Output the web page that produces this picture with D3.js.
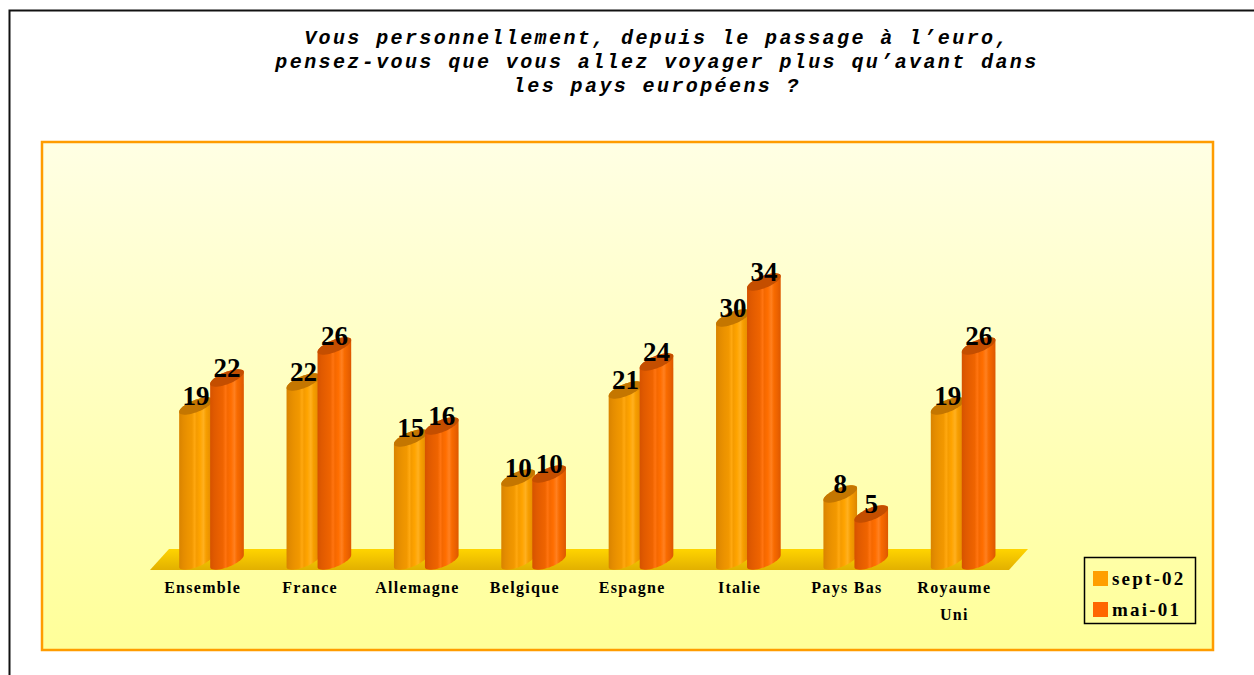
<!DOCTYPE html>
<html><head><meta charset="utf-8">
<script src="https://cdn.jsdelivr.net/npm/d3@7"></script>
<style>html,body{margin:0;padding:0;background:#fff;}svg{display:block;}</style>
</head><body>
<script>
const titleLines = ["Vous personnellement, depuis le passage à l’euro,", "pensez-vous que vous allez voyager plus qu’avant dans", "les pays européens ?"];
const categories = ["Ensemble", "France", "Allemagne", "Belgique", "Espagne", "Italie", "Pays Bas", "Royaume Uni"];
const series = ["sept-02", "mai-01"];
const sept02 = [19, 22, 15, 10, 21, 30, 8, 19];
const mai01 = [22, 26, 16, 10, 24, 34, 5, 26];
const seriesValues = [sept02, mai01];

const W = 1254, H = 675;
const svg = d3.select("body").append("svg").attr("width", W).attr("height", H);
const defs = svg.append("defs");

// background gradient
const bg = defs.append("linearGradient").attr("id", "bg").attr("x1", 0).attr("y1", 0).attr("x2", 0).attr("y2", 1);
bg.append("stop").attr("offset", "0%").attr("stop-color", "#ffffe4");
bg.append("stop").attr("offset", "100%").attr("stop-color", "#ffff99");
const fl = defs.append("linearGradient").attr("id", "floor").attr("x1", 0).attr("y1", 0).attr("x2", 0).attr("y2", 1);
fl.append("stop").attr("offset", "0%").attr("stop-color", "#ffd400");
fl.append("stop").attr("offset", "100%").attr("stop-color", "#e2b000");

const palettes = [
  {id: "g0", cap: "#c47600", legend: "#ff9f00",
   stops: [["0%","#d98300"],["12%","#e48c00"],["25%","#ec9300"],["38%","#f29800"],["46%","#ffa810"],["52%","#f59b00"],["62%","#ffa400"],["72%","#ffb020"],["80%","#f79e00"],["90%","#eb9200"],["100%","#dc8600"]]},
  {id: "g1", cap: "#c44e00", legend: "#ff6600",
   stops: [["0%","#d65200"],["12%","#e05a00"],["25%","#e85f00"],["38%","#ef6400"],["46%","#ff7410"],["52%","#f56800"],["62%","#ff6e00"],["72%","#ff8020"],["80%","#f86b00"],["90%","#ec6200"],["100%","#dc5800"]]}
];
palettes.forEach(p => {
  const g = defs.append("linearGradient").attr("id", p.id).attr("x1", 0).attr("y1", 0).attr("x2", 1).attr("y2", 0);
  p.stops.forEach(s => g.append("stop").attr("offset", s[0]).attr("stop-color", s[1]));
});

// outer black frame
svg.append("rect").attr("x", 9.5).attr("y", 10.5).attr("width", 1400).attr("height", 800)
  .attr("fill", "none").attr("stroke", "#111").attr("stroke-width", 2);

// title
const title = svg.append("text").attr("text-anchor", "middle")
  .attr("font-family", "'Liberation Mono', 'Courier New', monospace")
  .attr("font-weight", "bold").attr("font-style", "italic").attr("font-size", 20)
  .attr("letter-spacing", 2.4).attr("fill", "#000");
titleLines.forEach((t, i) => title.append("tspan").attr("x", 657).attr("y", 44 + i * 24).text(t));

// plot area
svg.append("rect").attr("x", 42).attr("y", 142).attr("width", 1171).attr("height", 508)
  .attr("fill", "url(#bg)").attr("stroke", "#ff9c00").attr("stroke-width", 2.5);

// scales
const x0 = d3.scaleBand().domain(categories).range([150, 1009]);
const x1 = d3.scalePoint().domain(series).range([46, 77]);
const y = d3.scaleLinear().domain([0, 34]).range([556, 284]);
const seriesDy = [2, -2];

// floor
const floorTop = 549, floorBot = 570, skew = 19;
svg.append("path")
  .attr("d", `M${x0.range()[0]},${floorBot} L${x0.range()[0] + skew},${floorTop} L${x0.range()[1] + skew},${floorTop} L${x0.range()[1]},${floorBot} Z`)
  .attr("fill", "url(#floor)");

// cylinders
const rx = 18, ry = 6, ang = -22 * Math.PI / 180;
function ellipsePts(cx, cy) {
  const pts = [];
  for (let i = 0; i < 48; i++) {
    const t = i / 48 * 2 * Math.PI;
    const ex = rx * Math.cos(t), ey = ry * Math.sin(t);
    pts.push([cx + ex * Math.cos(ang) - ey * Math.sin(ang), cy + ex * Math.sin(ang) + ey * Math.cos(ang)]);
  }
  return pts;
}
const bottomCy = 561;
const bars = svg.append("g");
const labels = svg.append("g").attr("font-family", "'Liberation Serif', 'Times New Roman', serif")
  .attr("font-weight", "bold").attr("font-size", 27).attr("text-anchor", "middle").attr("fill", "#000");

categories.forEach((c, ci) => {
  series.forEach((s, si) => {
    const v = seriesValues[si][ci];
    const cx = x0(c) + x1(s);
    const cy = y(v) + seriesDy[si];
    const hull = d3.polygonHull(ellipsePts(cx, cy).concat(ellipsePts(cx, bottomCy)));
    bars.append("path").attr("d", "M" + hull.join("L") + "Z").attr("fill", `url(#${palettes[si].id})`);
    bars.append("path").attr("d", "M" + ellipsePts(cx, cy).join("L") + "Z").attr("fill", palettes[si].cap);
    labels.append("text").attr("x", cx).attr("y", cy - 1).text(v);
  });
});

// category labels
const cat = svg.append("g").attr("font-family", "'Liberation Serif', 'Times New Roman', serif")
  .attr("font-weight", "bold").attr("font-size", 16).attr("letter-spacing", 1.3)
  .attr("text-anchor", "middle").attr("fill", "#000");
categories.forEach(c => {
  const words = c === "Royaume Uni" ? ["Royaume", "Uni"] : [c];
  words.forEach((w, i) => cat.append("text").attr("x", x0(c) + x0.bandwidth() / 2 - 1).attr("y", 593 + i * 27).text(w));
});

// legend
const lg = svg.append("g");
lg.append("rect").attr("x", 1084.5).attr("y", 557.5).attr("width", 111).attr("height", 66)
  .attr("fill", "none").attr("stroke", "#000").attr("stroke-width", 1.5);
series.forEach((s, i) => {
  lg.append("rect").attr("x", 1093).attr("y", 571 + i * 31).attr("width", 15).attr("height", 15).attr("fill", palettes[i].legend);
  lg.append("text").attr("x", 1112).attr("y", 585 + i * 31)
    .attr("font-family", "'Liberation Serif', 'Times New Roman', serif").attr("font-weight", "bold")
    .attr("font-size", 19).attr("letter-spacing", 2.2).attr("fill", "#000").text(s);
});
</script>
</body></html>
